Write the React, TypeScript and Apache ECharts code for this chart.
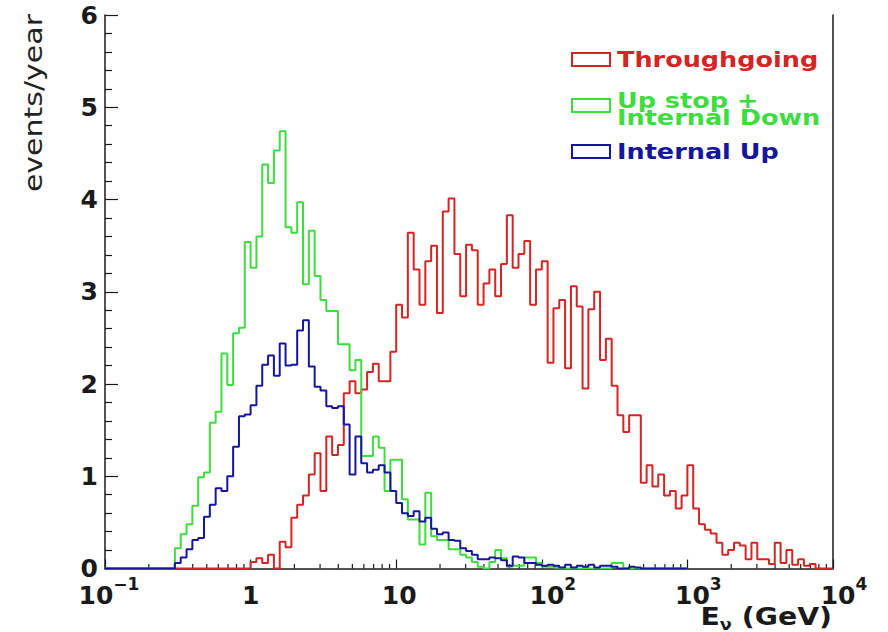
import React, { useEffect, useRef } from 'react';
import * as echarts from 'echarts';

// Histogram binning: log10(E/GeV) from -1 to 4, 25 bins per decade
const LOG_E_MIN = -1;
const LOG_BIN_WIDTH = 0.04;
const THROUGHGOING_BINS = 125; // 0.1 .. 10^4 GeV
const CONTAINED_BINS = 100; // 0.1 .. 10^3 GeV

// events/year per bin (first listed bin index given by *_START)
const THROUGHGOING_START = 25;
const throughgoing = [
  0.07, 0.11, 0.06, 0.15, 0.0, 0.29, 0.23, 0.55, 0.69, 0.79,
  1.02, 1.25, 0.84, 1.43, 1.23, 1.34, 1.9, 2.03, 1.9, 1.94,
  2.13, 2.22, 2.03, 2.03, 2.35, 2.86, 2.72, 3.64, 3.24, 2.86,
  3.33, 3.5, 2.77, 3.87, 4.01, 3.41, 2.95, 3.51, 3.45, 2.86,
  3.09, 3.24, 2.95, 3.3, 3.83, 3.26, 3.41, 3.55, 2.86, 3.24,
  3.33, 2.23, 2.82, 2.91, 2.17, 3.06, 2.84, 1.95, 2.81, 3.0,
  2.26, 2.49, 1.98, 1.66, 1.48, 1.66, 1.66, 0.93, 1.12, 0.89,
  1.02, 0.79, 0.84, 0.65, 0.79, 1.12, 0.65, 0.48, 0.42, 0.38,
  0.28, 0.15, 0.2, 0.28, 0.25, 0.1, 0.28, 0.1, 0.1, 0.05,
  0.28, 0.06, 0.2, 0.04, 0.1, 0.03, 0.05,
];

const UP_STOP_START = 12;
const upStopInternalDown = [
  0.22, 0.37, 0.48, 0.68, 0.99, 1.04, 1.58, 1.7, 2.33, 1.99,
  2.55, 2.61, 3.54, 3.26, 3.6, 4.38, 4.18, 4.53, 4.74, 3.7,
  3.64, 3.97, 3.08, 3.66, 3.17, 2.91, 2.79, 2.79, 2.43, 2.43,
  2.15, 2.26, 1.22, 1.22, 1.43, 1.31, 0.84, 1.18, 1.18, 0.75,
  0.53, 0.53, 0.26, 0.82, 0.35, 0.31, 0.31, 0.21, 0.21, 0.15,
  0.12, 0.07, 0.02, 0.0, 0.07, 0.2, 0.11, 0.02, 0.03, 0.03,
  0.12, 0.12, 0.06, 0.02, 0.02, 0.01, 0, 0, 0, 0,
  0, 0, 0, 0, 0, 0.06, 0.06,
];

const INTERNAL_UP_START = 12;
const internalUp = [
  0.06, 0.12, 0.21, 0.31, 0.33, 0.56, 0.69, 0.87, 0.84, 1.0,
  1.32, 1.65, 1.67, 1.77, 1.98, 2.21, 2.31, 2.09, 2.44, 2.2,
  2.21, 2.58, 2.69, 2.19, 1.97, 1.93, 1.76, 1.74, 1.76, 1.56,
  1.02, 1.43, 1.14, 1.04, 1.07, 1.12, 1.04, 0.84, 0.71, 0.6,
  0.57, 0.62, 0.51, 0.55, 0.43, 0.37, 0.39, 0.31, 0.3, 0.22,
  0.19, 0.15, 0.1, 0.1, 0.12, 0.11, 0.09, 0.03, 0.13, 0.12,
  0.06, 0.06, 0.04, 0.03, 0.04, 0.03, 0.01, 0.04, 0.01, 0.03,
  0.02, 0.04, 0.01, 0.03, 0.03, 0.02, 0, 0, 0.02, 0.01,
];

const decades = [0.1, 1, 10, 100, 1000];
const minorMultipliers = [2, 3, 4, 5, 6, 7, 8, 9];

const RED = '#d42424';
const GREEN = '#3fdc3f';
const BLUE = '#16169a';
const AXIS = '#1a1a1a';
const FONT = 'DejaVu Sans';

const legendItems = [
  { lines: ['Throughgoing'], color: RED },
  { lines: ['Up stop +', 'Internal Down'], color: GREEN },
  { lines: ['Internal Up'], color: BLUE },
];

function stepPoints(values: number[], start: number, nBins: number) {
  const pts: [number, number][] = [];
  for (let i = 0; i < nBins; i++) {
    const k = i - start;
    const v = k >= 0 && k < values.length ? values[k] : 0;
    const lo = Math.pow(10, LOG_E_MIN + i * LOG_BIN_WIDTH);
    const hi = Math.pow(10, LOG_E_MIN + (i + 1) * LOG_BIN_WIDTH);
    pts.push([lo, v], [hi, v]);
  }
  return pts;
}

export default function App() {
  const ref = useRef<HTMLDivElement>(null);

  useEffect(() => {
    if (!ref.current) return;
    const chart = echarts.init(ref.current, undefined, { renderer: 'svg' });

    const minorTicks: [number, number][] = [];
    decades.forEach((d) => minorMultipliers.forEach((m) => minorTicks.push([d * m, 0])));

    const labelBase = {
      fontSize: 25,
      fontWeight: 'bold' as const,
      fontFamily: FONT,
      color: AXIS,
      lineHeight: 28,
    };

    const histSeries = (name: string, data: [number, number][], color: string) => ({
      name,
      type: 'line' as const,
      data,
      showSymbol: false,
      symbol: 'none',
      silent: true,
      clip: true,
      lineStyle: { color, width: 2 },
      itemStyle: { color },
    });

    const graphics: any[] = [];
    // legend
    let y = 53;
    legendItems.forEach((item) => {
      graphics.push({
        type: 'rect',
        shape: { x: 572, y, width: 38, height: 13 },
        style: { fill: 'transparent', stroke: item.color, lineWidth: 2 },
      });
      item.lines.forEach((line, j) => {
        graphics.push({
          type: 'text',
          x: 617,
          y: y + 7 + (item.lines.length > 1 ? j * 17 - 5 : 0),
          scaleX: 1.16,
          style: {
            text: line,
            fontSize: 22,
            fontWeight: 'bold',
            fontFamily: FONT,
            fill: item.color,
            align: 'left',
            verticalAlign: 'middle',
          },
        });
      });
      y += 46;
    });
    // axis titles
    graphics.push({
      type: 'text',
      x: 33,
      y: 14,
      rotation: Math.PI / 2,
      scaleX: 1.2,
      style: {
        text: 'events/year',
        fontSize: 25,
        fontFamily: FONT,
        fill: '#222',
        align: 'right',
        verticalAlign: 'middle',
      },
    });
    graphics.push({
      type: 'text',
      x: 832,
      y: 602,
      scaleX: 1.18,
      style: {
        text: '{e|E}{n|ν}{e| (GeV)}',
        align: 'right',
        verticalAlign: 'top',
        fill: AXIS,
        rich: {
          e: { fontSize: 24, fontWeight: 'bold', fontFamily: FONT, lineHeight: 30, fill: AXIS },
          n: { fontSize: 15, fontWeight: 'bold', fontFamily: FONT, lineHeight: 15, verticalAlign: 'bottom', fill: AXIS },
        },
      },
    });

    chart.setOption({
      animation: false,
      backgroundColor: '#ffffff',
      grid: { left: 105, right: 55, top: 15, bottom: 63.5, containLabel: false },
      xAxis: {
        type: 'log',
        logBase: 10,
        min: 0.1,
        max: 10000,
        splitNumber: 5,
        axisLine: { show: true, onZero: false, lineStyle: { color: AXIS, width: 1.5 } },
        axisTick: { show: true, inside: true, length: 9, lineStyle: { color: AXIS, width: 1.2 } },
        minorTick: { show: false },
        splitLine: { show: false },
        axisLabel: {
          margin: 7,
          formatter: (v: number) => {
            const e = Math.round(Math.log10(v));
            if (e === 0) return '{m|1}';
            if (e === 1) return '{t|10}';
            return (e < 0 ? '{n|10}' : '{p|10}') + '{s|' + (e < 0 ? '\u2212' + -e : String(e)) + '}';
          },
          rich: {
            m: { ...labelBase, padding: [12, 0, 0, 0] },
            t: { ...labelBase, padding: [12, 0, 0, 6] },
            n: { ...labelBase, padding: [12, 0, 0, 8] },
            p: { ...labelBase, padding: [12, 0, 0, 22] },
            s: { fontSize: 17, fontWeight: 'bold', fontFamily: FONT, color: AXIS, lineHeight: 20, verticalAlign: 'top' },
          },
        },
      },
      yAxis: [
        {
          type: 'value',
          min: 0,
          max: 6,
          interval: 1,
          axisLine: { show: true, lineStyle: { color: AXIS, width: 1.5 } },
          axisTick: { show: true, inside: true, length: 13, lineStyle: { color: AXIS, width: 1.2 } },
          minorTick: { show: true, splitNumber: 5, length: 7, lineStyle: { color: AXIS, width: 1.2 } },
          splitLine: { show: false },
          axisLabel: { margin: 7, fontSize: 25, fontWeight: 'bold', fontFamily: FONT, color: AXIS, lineHeight: 22 },
        },
        {
          type: 'value',
          position: 'right',
          min: 0,
          max: 6,
          axisLine: { show: true, lineStyle: { color: AXIS, width: 1.5 } },
          axisTick: { show: false },
          axisLabel: { show: false },
          splitLine: { show: false },
        },
      ],
      series: [
        histSeries('Throughgoing', stepPoints(throughgoing, THROUGHGOING_START, THROUGHGOING_BINS), RED),
        histSeries('Up stop + Internal Down', stepPoints(upStopInternalDown, UP_STOP_START, CONTAINED_BINS), GREEN),
        histSeries('Internal Up', stepPoints(internalUp, INTERNAL_UP_START, CONTAINED_BINS), BLUE),
        {
          type: 'custom',
          silent: true,
          clip: false,
          data: minorTicks,
          encode: { x: 0, y: 1 },
          z: 1,
          renderItem: (params: any, api: any) => {
            const p = api.coord([api.value(0), 0]);
            return {
              type: 'line',
              shape: { x1: p[0], y1: p[1], x2: p[0], y2: p[1] - 4.5 },
              style: { stroke: AXIS, lineWidth: 1.2 },
            };
          },
        },
      ],
      graphic: graphics,
    });

    return () => chart.dispose();
  }, []);

  return (
    <div
      ref={ref}
      style={{ position: 'fixed', left: 0, top: 0, width: 888, height: 632, background: '#fff' }}
    />
  );
}
